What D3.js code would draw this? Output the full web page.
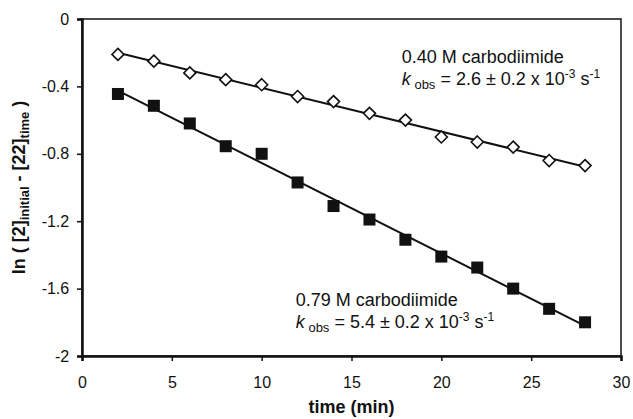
<!DOCTYPE html>
<html>
<head>
<meta charset="utf-8">
<script src="https://cdn.jsdelivr.net/npm/d3@7"></script>
<style>
  body { margin: 0; background: #fff; }
  text { font-family: "Liberation Sans", Arial, sans-serif; fill: #111; }
</style>
</head>
<body>
<div id="chart"></div>
<script>
// data
var times = [2, 4, 6, 8, 10, 12, 14, 16, 18, 20, 22, 24, 26, 28];
var low40 = [-0.21, -0.25, -0.32, -0.36, -0.39, -0.46, -0.49, -0.56, -0.60, -0.70, -0.73, -0.76, -0.84, -0.87];
var high79 = [-0.445, -0.515, -0.62, -0.755, -0.80, -0.97, -1.11, -1.19, -1.31, -1.41, -1.475, -1.60, -1.72, -1.80];
var xTicks = [0, 5, 10, 15, 20, 25, 30];
var yTicks = [0, -0.4, -0.8, -1.2, -1.6, -2];

var svgWidth = 633;
var svgHeight = 419;
var margin = {top: 19, right: 12, bottom: 63, left: 82};
var width = svgWidth - margin.left - margin.right;
var height = svgHeight - margin.top - margin.bottom;

var svg = d3.select("#chart")
    .append("svg")
    .attr("width", svgWidth)
    .attr("height", svgHeight);

var chartGroup = svg.append("g")
    .attr("transform", `translate(${margin.left}, ${margin.top})`);

var x = d3.scaleLinear().domain([0, 30]).range([0, width]);
var y = d3.scaleLinear().domain([-2, 0]).range([height, 0]);

// frame
chartGroup.append("rect")
    .attr("width", width)
    .attr("height", height)
    .attr("fill", "none")
    .attr("stroke", "#111")
    .attr("stroke-width", 1.5);

var bottomAxis = d3.axisBottom(x).tickValues(xTicks).tickSize(5).tickFormat(d3.format("d"));
var leftAxis = d3.axisLeft(y).tickValues(yTicks).tickSize(5).tickFormat(d => d === 0 ? "0" : d === -2 ? "-2" : d.toFixed(1));

var xg = chartGroup.append("g")
    .attr("transform", `translate(0, ${height})`)
    .call(bottomAxis);
var yg = chartGroup.append("g")
    .call(leftAxis);

[xg, yg].forEach(function(g) {
    g.select(".domain").attr("stroke", "#111").attr("stroke-width", 2.5);
    g.selectAll(".tick line").attr("stroke", "#111").attr("stroke-width", 1.5);
    g.selectAll(".tick text")
        .style("font-family", "'Liberation Sans', Arial, sans-serif")
        .style("font-size", "16px")
        .attr("fill", "#111");
});
xg.selectAll(".tick text").attr("dy", "1.5em");
yg.selectAll(".tick text").attr("dx", "-0.3em");

// least-squares lines
function fit(xs, ys) {
    var mx = d3.mean(xs), my = d3.mean(ys);
    var sxy = d3.sum(xs, (v, i) => (v - mx) * (ys[i] - my));
    var sxx = d3.sum(xs, v => (v - mx) * (v - mx));
    var b = sxy / sxx;
    return {b: b, a: my - b * mx};
}

[low40, high79].forEach(function(series) {
    var f = fit(times, series);
    var x0 = d3.min(times), x1 = d3.max(times);
    chartGroup.append("line")
        .attr("x1", x(x0)).attr("y1", y(f.a + f.b * x0))
        .attr("x2", x(x1)).attr("y2", y(f.a + f.b * x1))
        .attr("stroke", "#111")
        .attr("stroke-width", 2);
});

// open diamonds
chartGroup.selectAll(".diamond")
    .data(times.map((t, i) => [t, low40[i]]))
    .enter()
    .append("path")
    .attr("class", "diamond")
    .attr("d", "M0,-6L6,0L0,6L-6,0Z")
    .attr("transform", d => `translate(${x(d[0])}, ${y(d[1])})`)
    .attr("fill", "#fff")
    .attr("stroke", "#111")
    .attr("stroke-width", 1.6);

// filled squares
chartGroup.selectAll(".square")
    .data(times.map((t, i) => [t, high79[i]]))
    .enter()
    .append("rect")
    .attr("class", "square")
    .attr("x", d => x(d[0]) - 6)
    .attr("y", d => y(d[1]) - 6)
    .attr("width", 12)
    .attr("height", 12)
    .attr("fill", "#111");

// annotations
function note(xv, yv, conc, k) {
    chartGroup.append("text")
        .attr("x", x(xv)).attr("y", y(yv))
        .style("font-size", "18px")
        .text(conc + " M carbodiimide");
    var t2 = chartGroup.append("text")
        .attr("x", x(xv)).attr("y", y(yv) + 22)
        .style("font-size", "18px");
    t2.append("tspan").style("font-style", "italic").text("k");
    t2.append("tspan").attr("dy", 4).style("font-size", "13px").text(" obs");
    t2.append("tspan").attr("dy", -4).text(" = " + k + " \u00b1 0.2 x 10");
    t2.append("tspan").attr("dy", -7).style("font-size", "12px").text("-3");
    t2.append("tspan").attr("dy", 7).text(" s");
    t2.append("tspan").attr("dy", -7).style("font-size", "12px").text("-1");
}
note(17.8, -0.26, "0.40", "2.6");
note(11.9, -1.705, "0.79", "5.4");

// axis titles
chartGroup.append("text")
    .attr("x", width / 2)
    .attr("y", height + 57)
    .attr("text-anchor", "middle")
    .style("font-size", "18px")
    .style("font-weight", "bold")
    .text("time (min)");

var yt = chartGroup.append("text")
    .attr("transform", `translate(${-margin.left + 25}, ${height / 2}) rotate(-90)`)
    .attr("text-anchor", "middle")
    .style("font-size", "18px")
    .style("font-weight", "bold");
yt.append("tspan").text("ln ( [2]");
yt.append("tspan").attr("dy", 4).style("font-size", "13px").text("initial");
yt.append("tspan").attr("dy", -4).text(" - [22]");
yt.append("tspan").attr("dy", 4).style("font-size", "13px").text("time");
yt.append("tspan").attr("dy", -4).text(" )");
</script>
</body>
</html>
